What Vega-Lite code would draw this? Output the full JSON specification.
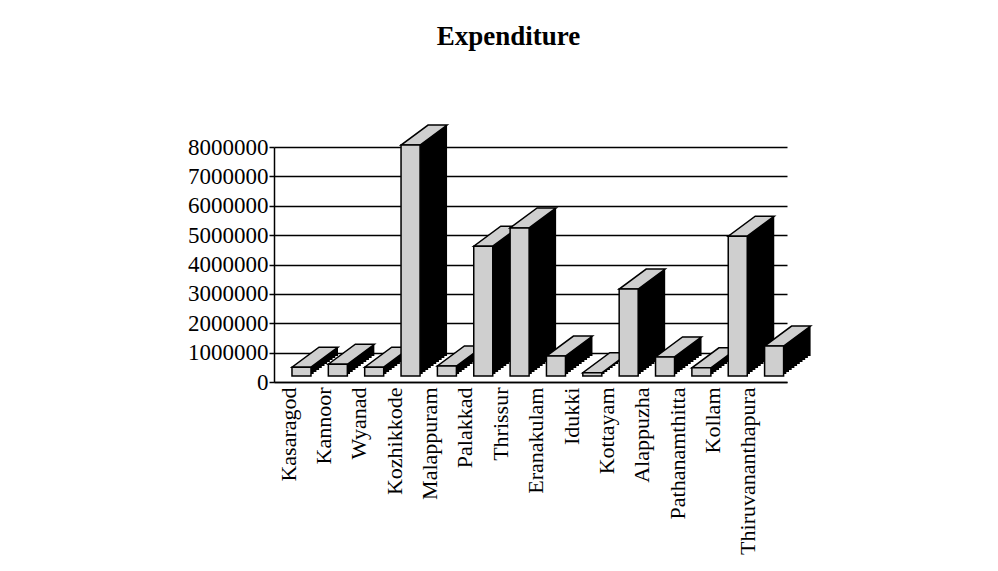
{
  "$schema": "https://vega.github.io/schema/vega-lite/v6.json",
  "width": 513,
  "height": 235,
  "autosize": {"type": "none"},
  "padding": {"left": 274, "top": 147, "right": 211, "bottom": 189},
  "background": "white",
  "config": {"view": {"stroke": null}},
  "title": {
    "text": "Expenditure",
    "font": "Liberation Serif",
    "fontSize": 27,
    "fontWeight": "bold",
    "color": "black",
    "anchor": "middle",
    "frame": "group",
    "dx": -22,
    "offset": 71
  },
  "data": {
    "values": [
      {"d": "Kasaragod", "v": 300000},
      {"d": "Kannoor", "v": 400000},
      {"d": "Wyanad", "v": 300000},
      {"d": "Kozhikkode", "v": 7860000},
      {"d": "Malappuram", "v": 340000},
      {"d": "Palakkad", "v": 4420000},
      {"d": "Thrissur", "v": 5040000},
      {"d": "Eranakulam", "v": 680000},
      {"d": "Idukki", "v": 110000},
      {"d": "Kottayam", "v": 2960000},
      {"d": "Alappuzha", "v": 650000},
      {"d": "Pathanamthitta", "v": 280000},
      {"d": "Kollam", "v": 4760000},
      {"d": "Thiruvananthapura", "v": 1020000}
    ]
  },
  "resolve": {"scale": {"x": "independent"}},
  "layer": [
    {
      "mark": {"type": "point", "opacity": 0},
      "encoding": {
        "x": {
          "field": "d", "type": "nominal", "sort": null,
          "scale": {"type": "point", "padding": 0.75, "align": 0.264},
          "axis": {
            "title": null, "labelAngle": -90, "labelFont": "Liberation Serif",
            "labelFontSize": 22, "labelColor": "black", "ticks": false,
            "domain": true, "domainColor": "black", "domainWidth": 1.5,
            "labelPadding": 5, "grid": false
          }
        },
        "y": {
          "field": "v", "type": "quantitative",
          "scale": {"domain": [0, 8000000], "nice": false},
          "axis": {
            "title": null, "format": "d",
            "values": [0, 1000000, 2000000, 3000000, 4000000, 5000000, 6000000, 7000000, 8000000],
            "grid": true, "gridColor": "black", "gridWidth": 1.5, "gridOpacity": 1,
            "tickSize": 5, "tickColor": "black", "tickWidth": 1.5,
            "domainColor": "black", "domainWidth": 1.5,
            "labelFont": "Liberation Serif", "labelFontSize": 23, "labelColor": "black",
            "labelPadding": 1
          }
        }
      }
    },
    {
      "encoding": {
        "x": {
          "field": "d", "type": "nominal", "sort": null,
          "scale": {"type": "band", "paddingInner": 0.477, "paddingOuter": 0.294, "align": 0.841},
          "axis": null
        },
        "y": {
          "field": "v", "type": "quantitative",
          "scale": {"domain": [0, 8000000], "nice": false},
          "axis": {
            "title": null, "format": "d",
            "values": [0, 1000000, 2000000, 3000000, 4000000, 5000000, 6000000, 7000000, 8000000],
            "grid": true, "gridColor": "black", "gridWidth": 1.5, "gridOpacity": 1,
            "tickSize": 5, "tickColor": "black", "tickWidth": 1.5,
            "domainColor": "black", "domainWidth": 1.5,
            "labelFont": "Liberation Serif", "labelFontSize": 23, "labelColor": "black",
            "labelPadding": 1
          }
        }
      },
      "layer": [
        {"mark": {"type": "bar", "fill": "black", "xOffset": 2.7, "yOffset": -8, "y2Offset": -8}},
        {"mark": {"type": "bar", "fill": "black", "xOffset": 5.4, "yOffset": -10, "y2Offset": -10}},
        {"mark": {"type": "bar", "fill": "black", "xOffset": 8.1, "yOffset": -12, "y2Offset": -12}},
        {"mark": {"type": "bar", "fill": "black", "xOffset": 10.8, "yOffset": -14, "y2Offset": -14}},
        {"mark": {"type": "bar", "fill": "black", "xOffset": 13.5, "yOffset": -16, "y2Offset": -16}},
        {"mark": {"type": "bar", "fill": "black", "xOffset": 16.2, "yOffset": -18, "y2Offset": -18}},
        {"mark": {"type": "bar", "fill": "black", "xOffset": 18.9, "yOffset": -20, "y2Offset": -20}},
        {"mark": {"type": "bar", "fill": "black", "xOffset": 21.6, "yOffset": -22, "y2Offset": -22}},
        {"mark": {"type": "bar", "fill": "black", "xOffset": 24.3, "yOffset": -24, "y2Offset": -24}},
        {"mark": {"type": "bar", "fill": "black", "xOffset": 27, "yOffset": -26, "y2Offset": -26}},
        {"mark": {"type": "point", "shape": "M-9.5,0L9.5,0L36.5,-20L17.5,-20Z", "size": 4, "filled": true, "fill": "#cfcfcf", "stroke": "black", "strokeWidth": 1.5, "opacity": 1, "yOffset": -6}},
        {"mark": {"type": "bar", "fill": "#cfcfcf", "stroke": "black", "strokeWidth": 1.5, "yOffset": -6, "y2Offset": -6}}
      ]
    }
  ]
}
